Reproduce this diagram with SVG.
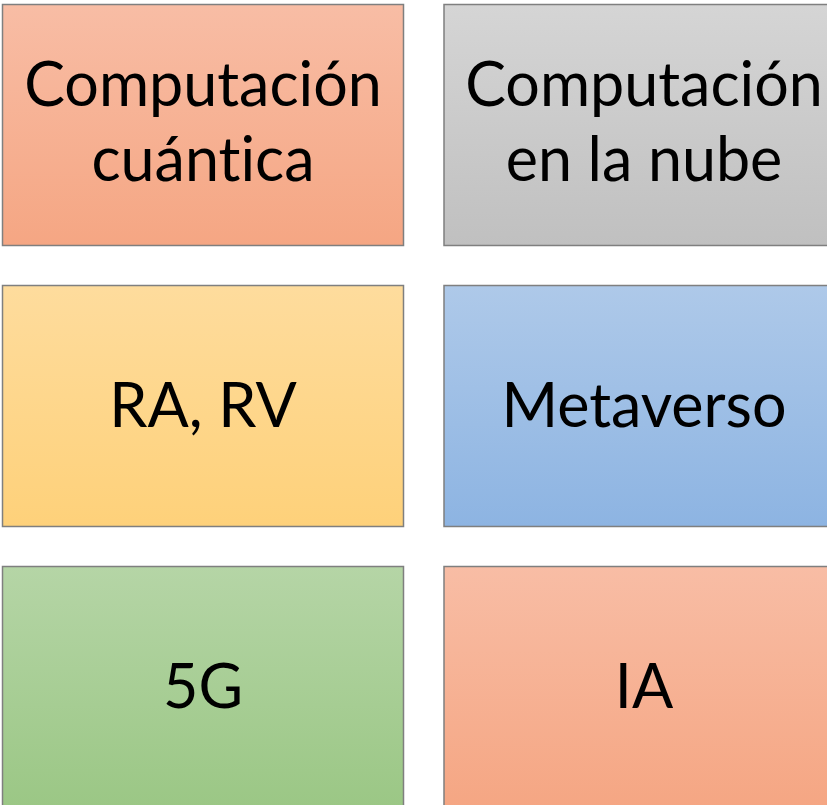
<svg xmlns="http://www.w3.org/2000/svg" width="827" height="805" viewBox="0 0 827 805">
<defs>
<linearGradient id="gOrange" x1="0" y1="0" x2="0" y2="1"><stop offset="0" stop-color="#f8bda5"/><stop offset="1" stop-color="#f5a683"/></linearGradient>
<linearGradient id="gGray" x1="0" y1="0" x2="0" y2="1"><stop offset="0" stop-color="#d5d5d5"/><stop offset="1" stop-color="#c0c0c0"/></linearGradient>
<linearGradient id="gYellow" x1="0" y1="0" x2="0" y2="1"><stop offset="0" stop-color="#fedc9d"/><stop offset="1" stop-color="#fed17a"/></linearGradient>
<linearGradient id="gBlue" x1="0" y1="0" x2="0" y2="1"><stop offset="0" stop-color="#aec9e9"/><stop offset="1" stop-color="#8db4e2"/></linearGradient>
<linearGradient id="gGreen" x1="0" y1="0" x2="0" y2="1"><stop offset="0" stop-color="#b5d5a6"/><stop offset="1" stop-color="#9bc785"/></linearGradient>
</defs>
<style>
.box{stroke:#7f7f7f;stroke-width:1.5}
.t{font-family:Lato,"Liberation Sans",sans-serif;font-size:61px;fill:#000;text-anchor:middle;font-variant-ligatures:none}
</style>
<rect width="827" height="805" fill="#ffffff"/>
<g id="n1"><rect class="box" x="2.5" y="4.5" width="401" height="241" fill="url(#gOrange)"/><text class="t" x="203" y="106">Computación</text><text class="t" x="203" y="181">cuántica</text></g>
<g id="n2"><rect class="box" x="444" y="4.5" width="402" height="241" fill="url(#gGray)"/><text class="t" x="644" y="106">Computación</text><text class="t" x="644" y="181">en la nube</text></g>
<g id="n3"><rect class="box" x="2.5" y="285.5" width="401" height="241" fill="url(#gYellow)"/><text class="t" x="203" y="427">RA, RV</text></g>
<g id="n4"><rect class="box" x="444" y="285.5" width="402" height="241" fill="url(#gBlue)"/><text class="t" x="644" y="427">Metaverso</text></g>
<g id="n5"><rect class="box" x="2.5" y="566.5" width="401" height="241" fill="url(#gGreen)"/><text class="t" x="203" y="708">5G</text></g>
<g id="n6"><rect class="box" x="444" y="566.5" width="402" height="241" fill="url(#gOrange)"/><text class="t" x="644" y="708">IA</text></g>
<g id="connectors"/>
</svg>
